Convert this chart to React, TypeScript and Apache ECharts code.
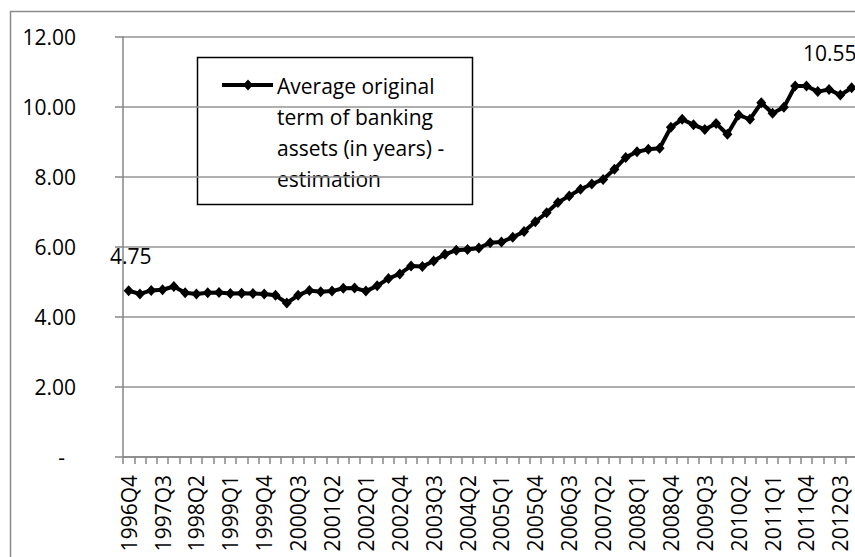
import React, { useEffect, useRef } from "react";
import * as echarts from "echarts";

// Quarter labels, 1996Q4 .. 2012Q4
const firstYear = 1996;
const firstQuarter = 4;
const quarterCount = 65;
const quarters: string[] = [];
for (let k = 0; k < quarterCount; k++) {
  const q = firstQuarter - 1 + k;
  quarters.push(`${firstYear + Math.floor(q / 4)}Q${(q % 4) + 1}`);
}

// Average original term of banking assets, in years (estimation)
const avgTerm: number[] = [
  4.75, 4.66, 4.76, 4.78, 4.87, 4.69, 4.66, 4.69, 4.7, 4.67,
  4.68, 4.67, 4.66, 4.62, 4.4, 4.62, 4.76, 4.72, 4.74, 4.82,
  4.83, 4.74, 4.89, 5.1, 5.23, 5.46, 5.44, 5.6, 5.79, 5.91,
  5.93, 5.97, 6.12, 6.14, 6.28, 6.44, 6.72, 6.98, 7.27, 7.46,
  7.65, 7.8, 7.93, 8.22, 8.56, 8.72, 8.79, 8.82, 9.42, 9.65,
  9.49, 9.36, 9.53, 9.22, 9.77, 9.65, 10.12, 9.82, 9.99, 10.6,
  10.6, 10.44, 10.5, 10.34, 10.55,
];

const seriesName = "Average original term of banking assets (in years) - estimation";
const legendLines = ["Average original", "term of banking", "assets (in years) -", "estimation"];

const yTicks = { min: 0, max: 12, interval: 2 };

const FONT = "'Open Sans', 'Noto Sans', sans-serif";
const FS = 21;
const AXIS_GRAY = "#868686";
const GRID_GRAY = "#959595";

export default function App() {
  const ref = useRef<HTMLDivElement>(null);

  useEffect(() => {
    if (!ref.current) return;
    const chart = echarts.init(ref.current, null, { renderer: "svg" });

    const lastIdx = avgTerm.length - 1;
    const seriesData = avgTerm.map((v, i) => {
      if (i === 0) {
        return { value: v, label: { show: true, offset: [2, 0] } };
      }
      if (i === lastIdx) {
        return { value: v, label: { show: true, offset: [-22, 0] } };
      }
      return v;
    });

    const legendX = 197;
    const legendY = 57;
    const lineY0 = 86;
    const lineStep = 31;

    chart.setOption({
      animation: false,
      backgroundColor: "#ffffff",
      grid: { left: 123, right: 12.7, top: 37, bottom: 100, containLabel: false },
      xAxis: {
        type: "category",
        data: quarters,
        boundaryGap: true,
        axisLine: { show: true, lineStyle: { color: AXIS_GRAY, width: 1.5 } },
        axisTick: { show: true, interval: 0, length: 7, lineStyle: { color: AXIS_GRAY, width: 1.5 } },
        axisLabel: {
          interval: 2,
          rotate: 90,
          margin: 18,
          fontFamily: FONT,
          fontSize: FS,
          color: "#000000",
        },
        splitLine: { show: false },
      },
      yAxis: {
        type: "value",
        min: yTicks.min,
        max: yTicks.max,
        interval: yTicks.interval,
        axisLine: { show: true, lineStyle: { color: AXIS_GRAY, width: 1.5 } },
        axisTick: { show: true, length: 8, lineStyle: { color: AXIS_GRAY, width: 1.5 } },
        axisLabel: {
          margin: 47,
          fontFamily: FONT,
          fontSize: FS,
          color: "#000000",
          formatter: (v: number) => (v === 0 ? "{d|-}" : v.toFixed(2)),
          rich: {
            d: { fontFamily: FONT, fontSize: FS, color: "#000000", padding: [0, 11, 0, 0] },
          },
        },
        splitLine: { show: true, lineStyle: { color: GRID_GRAY, width: 1.5 } },
      },
      series: [
        {
          name: seriesName,
          type: "line",
          data: seriesData,
          symbol: "diamond",
          symbolSize: [10, 11],
          showAllSymbol: true,
          itemStyle: { color: "#000000" },
          lineStyle: { color: "#000000", width: 4 },
          label: {
            show: false,
            position: "top",
            distance: 19,
            fontFamily: FONT,
            fontSize: FS,
            color: "#000000",
            formatter: (p: any) => Number(p.value).toFixed(2),
          },
          emphasis: { disabled: true },
          z: 3,
        },
      ],
      graphic: [
        {
          type: "rect",
          z: -1,
          silent: true,
          shape: { x: 10.5, y: 11.5, width: 900, height: 600 },
          style: { fill: "none", stroke: "#8a8a8a", lineWidth: 1.5 },
        },
        {
          type: "group",
          z: 10,
          children: [
            {
              type: "rect",
              shape: { x: legendX + 0.5, y: legendY + 0.5, width: 275, height: 147 },
              style: { fill: "#ffffff", stroke: "#000000", lineWidth: 1.5 },
            },
            {
              type: "line",
              shape: { x1: 222, y1: lineY0 - 1, x2: 273, y2: lineY0 - 1 },
              style: { stroke: "#000000", lineWidth: 4 },
            },
            {
              type: "polygon",
              shape: {
                points: [
                  [248, lineY0 - 6.5],
                  [253, lineY0 - 1],
                  [248, lineY0 + 4.5],
                  [243, lineY0 - 1],
                ],
              },
              style: { fill: "#000000" },
            },
            ...legendLines.map((t, i) => ({
              type: "text",
              x: 277,
              y: lineY0 + i * lineStep,
              style: {
                text: t,
                fontFamily: FONT,
                fontSize: FS,
                fill: "#000000",
                verticalAlign: "middle",
                align: "left",
              },
            })),
          ],
        },
      ],
    });

    return () => chart.dispose();
  }, []);

  return (
    <div
      style={{
        position: "fixed",
        left: 0,
        top: 0,
        width: 855,
        height: 557,
        overflow: "hidden",
        background: "#ffffff",
      }}
    >
      <div ref={ref} style={{ width: 870, height: 557 }} />
    </div>
  );
}
